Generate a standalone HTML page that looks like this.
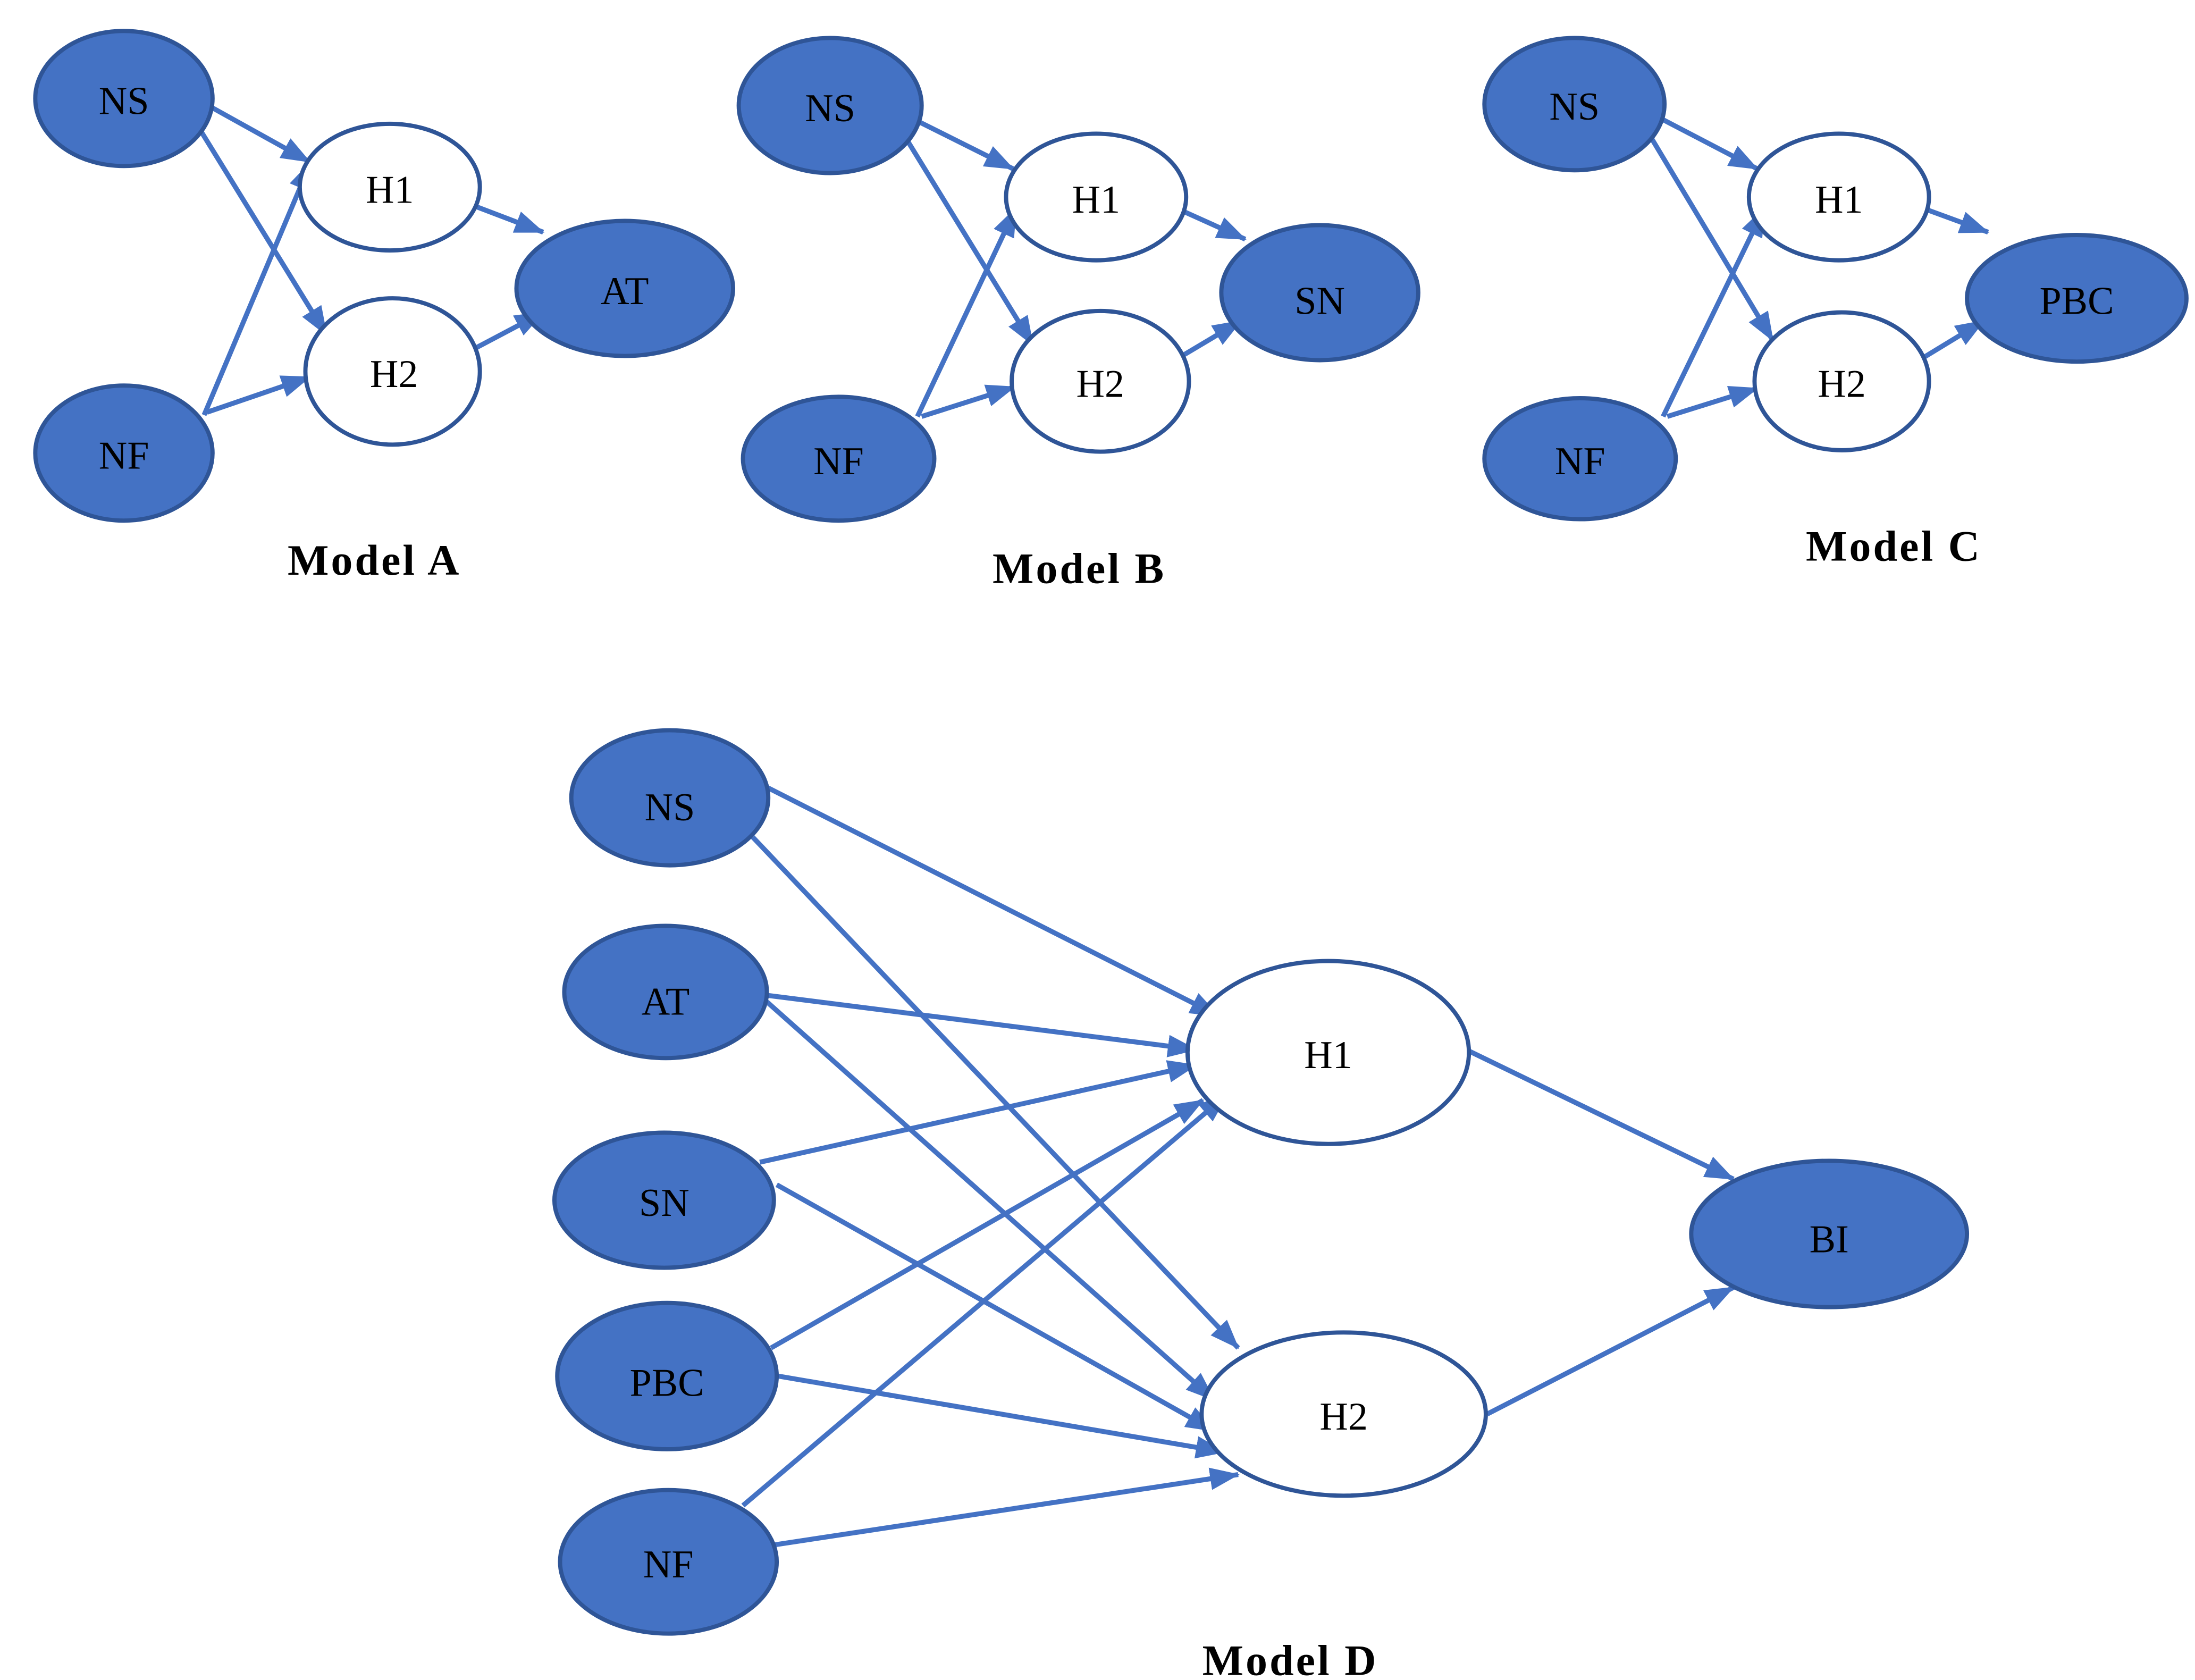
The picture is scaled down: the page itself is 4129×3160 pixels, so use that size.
<!DOCTYPE html>
<html><head><meta charset="utf-8"><style>html,body{margin:0;padding:0;background:#fff}svg{display:block}</style></head>
<body>
<svg width="4129" height="3160" viewBox="0 0 1560 1194" xmlns="http://www.w3.org/2000/svg">
<defs>
<marker id="a" markerUnits="userSpaceOnUse" markerWidth="24" markerHeight="18" refX="20" refY="8" orient="auto"><path d="M0,0 L21,8 L0,16 Z" fill="#4472C4"/></marker>
</defs>
<g stroke="#4472C4" stroke-width="3.5" fill="none" marker-end="url(#a)">
<line x1="148" y1="75" x2="220" y2="115"/><line x1="142" y1="92" x2="232" y2="238"/><line x1="145" y1="295" x2="221" y2="115"/><line x1="147" y1="293" x2="220" y2="268"/><line x1="323" y1="141" x2="386" y2="165"/><line x1="333" y1="250" x2="386" y2="222"/>
<line x1="650" y1="85" x2="720" y2="120"/><line x1="640" y1="92" x2="734" y2="245"/><line x1="652" y1="296" x2="722" y2="148"/><line x1="655" y1="296" x2="721" y2="275"/><line x1="825" y1="143" x2="885" y2="170"/><line x1="835" y1="256" x2="882" y2="228"/>
<line x1="1178" y1="83" x2="1249" y2="120"/><line x1="1170" y1="92" x2="1260" y2="242"/><line x1="1182" y1="296" x2="1254" y2="148"/><line x1="1185" y1="296" x2="1249" y2="276"/><line x1="1353" y1="143" x2="1413" y2="165"/><line x1="1364" y1="256" x2="1410" y2="228"/>
<line x1="542" y1="558" x2="866" y2="722"/><line x1="535" y1="595" x2="880" y2="958"/><line x1="542" y1="707" x2="850" y2="746"/><line x1="545" y1="712" x2="863" y2="995"/><line x1="540" y1="826" x2="850" y2="757"/><line x1="552" y1="842" x2="863" y2="1017"/><line x1="548" y1="958" x2="855" y2="782"/><line x1="553" y1="978" x2="870" y2="1032"/><line x1="528" y1="1070" x2="872" y2="778"/><line x1="550" y1="1098" x2="880" y2="1048"/><line x1="1042" y1="746" x2="1232" y2="838"/><line x1="1057" y1="1005" x2="1232" y2="915"/>
</g>
<g stroke="#2F5597" stroke-width="3">
<g fill="#4472C4">
<ellipse cx="88" cy="70" rx="63" ry="48"/><ellipse cx="88" cy="322" rx="63" ry="48"/><ellipse cx="444" cy="205" rx="77" ry="48"/>
<ellipse cx="590" cy="75" rx="65" ry="48"/><ellipse cx="596" cy="326" rx="68" ry="44"/><ellipse cx="938" cy="208" rx="70" ry="48"/>
<ellipse cx="1119" cy="74" rx="64" ry="47"/><ellipse cx="1123" cy="326" rx="68" ry="43"/><ellipse cx="1476" cy="212" rx="78" ry="45"/>
<ellipse cx="476" cy="567" rx="70" ry="48"/><ellipse cx="473" cy="705" rx="72" ry="47"/><ellipse cx="472" cy="853" rx="78" ry="48"/><ellipse cx="474" cy="978" rx="78" ry="52"/><ellipse cx="475" cy="1110" rx="77" ry="51"/><ellipse cx="1300" cy="877" rx="98" ry="52"/>
</g>
<g fill="#fff">
<ellipse cx="277" cy="133" rx="64" ry="45"/><ellipse cx="279" cy="264" rx="62" ry="52"/>
<ellipse cx="779" cy="140" rx="64" ry="45"/><ellipse cx="782" cy="271" rx="63" ry="50"/>
<ellipse cx="1307" cy="140" rx="64" ry="45"/><ellipse cx="1309" cy="271" rx="62" ry="49"/>
<ellipse cx="944" cy="748" rx="100" ry="65"/><ellipse cx="955" cy="1005" rx="101" ry="58"/>
</g>
</g>
<g font-family="'Liberation Serif', serif" font-size="28" fill="#000" text-anchor="middle" dominant-baseline="central">
<text x="88" y="72">NS</text><text x="88" y="324">NF</text><text x="277" y="135">H1</text><text x="280" y="266">H2</text><text x="444" y="207">AT</text>
<text x="590" y="77">NS</text><text x="596" y="328">NF</text><text x="779" y="142">H1</text><text x="782" y="273">H2</text><text x="938" y="214">SN</text>
<text x="1119" y="76">NS</text><text x="1123" y="328">NF</text><text x="1307" y="142">H1</text><text x="1309" y="273">H2</text><text x="1476" y="214">PBC</text>
<text x="476" y="574">NS</text><text x="473" y="712">AT</text><text x="472" y="855">SN</text><text x="474" y="983">PBC</text><text x="475" y="1112">NF</text><text x="944" y="750">H1</text><text x="955" y="1007">H2</text><text x="1300" y="881">BI</text>
<g font-weight="bold" font-size="31" letter-spacing="1.5">
<text x="266" y="398">Model A</text><text x="767" y="404">Model B</text><text x="1346" y="388">Model C</text><text x="917" y="1180">Model D</text>
</g>
</g>
</svg>
</body></html>
